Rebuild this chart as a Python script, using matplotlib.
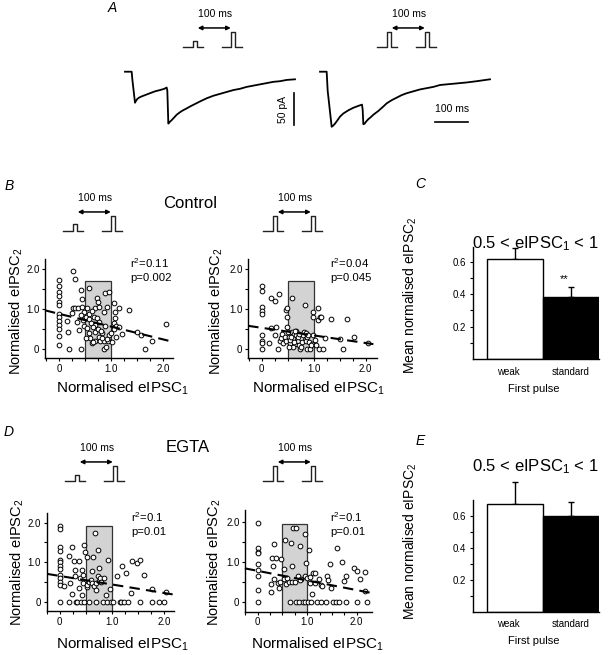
import numpy as np
import matplotlib
matplotlib.use("Agg")
import matplotlib.pyplot as plt
from matplotlib.patches import Rectangle

plt.rcParams['font.family'] = ['Liberation Sans', 'DejaVu Sans']
plt.rcParams['mathtext.fontset'] = 'custom'
plt.rcParams['mathtext.rm'] = 'Liberation Sans'
plt.rcParams['mathtext.it'] = 'Liberation Sans:italic'

# ---- data ----
# A: example currents (ms, pA)
trace_weak_t = [0, 20, 22, 30, 33, 37, 42, 50, 60, 75, 90, 105, 118, 125, 127, 130,
                133, 137, 141, 148, 155, 165, 174, 185, 195, 210, 225, 245, 265, 285, 305,
                325, 345, 365, 385, 405, 425, 445, 465, 485, 510]
trace_weak_i = [0, 0, -12, -49, -46, -43, -41, -39, -37, -34, -31, -29, -27, -25, -30, -82,
                -80, -78, -76, -72, -68, -64, -61, -58, -55, -51, -47, -42, -38, -35, -32,
                -29, -27, -24, -22, -20, -18, -16, -15, -13, -12]
trace_std_t = [0, 20, 23, 35, 40, 45, 52, 60, 70, 85, 100, 115, 126, 128, 130, 134, 138, 145,
               152, 160, 175, 190, 200, 215, 230, 245, 260, 280, 300, 320, 340, 360, 380, 400,
               420, 440, 470, 510]
trace_std_i = [0, 0, -30, -87, -85, -82, -77, -71, -66, -61, -57, -54, -52, -60, -83, -82, -79, -75,
               -72, -68, -62, -55, -50, -45, -41, -37, -34, -31, -28, -26, -24, -21, -20, -19,
               -18, -17, -15, -12]

# B: control, weak first pulse
ctl_weak_x = [0, 0, 0, 0, 0, 0, 0, 0, 0, 0, 0, 0, 0,
              0.26, 0.31, 0.15, 0.17, 0.19, 0.26, 0.31, 0.37, 0.25, 0.35, 0.39, 0.43, 0.43, 0.44, 0.44,
              0.47, 0.43, 0.46, 0.48, 0.51, 0.58, 0.54, 0.57, 0.57, 0.54, 0.57, 0.60, 0.52, 0.64, 0.69,
              0.73, 0.75, 0.70, 0.76, 0.67, 0.72, 0.76, 0.70, 0.69, 0.76, 0.79, 0.86, 0.83, 0.86, 0.86,
              0.89, 0.96, 0.92, 0.89, 0.96, 0.94, 0.90, 0.99, 1.02, 1.05, 1.07, 1.08, 1.05, 1.10, 1.05,
              1.10, 1.16, 1.15, 1.21, 1.34, 1.50, 1.58, 1.66, 1.78, 2.06,
              0.62, 0.66, 0.74, 0.80, 0.63, 0.82, 0.66, 0.92]
ctl_weak_y = [1.72, 1.58, 1.43, 1.32, 1.18, 1.10, 0.88, 0.80, 0.70, 0.60, 0.50, 0.32, 0.10,
              1.96, 1.74, 0.71, 0.43, 0.0, 1.02, 1.03, 1.03, 0.89, 0.68, 0.48, 0.0, 1.48, 1.25, 1.06,
              0.93, 0.85, 0.72, 0.58, 0.80, 1.52, 1.03, 0.87, 0.75, 0.52, 0.39, 0.27, 0.28, 0.14, 0.20,
              1.27, 1.18, 1.03, 1.06, 0.81, 0.77, 0.68, 0.60, 0.43, 0.31, 0.20, 0.93, 0.39, 0.20, 0.0,
              1.39, 1.42, 1.06, 0.58, 0.35, 0.20, 0.06, 0.39, 0.18, 1.14, 0.93, 0.77, 0.64, 0.58, 0.50,
              0.31, 1.03, 0.56, 0.37, 0.97, 0.42, 0.35, 0.0, 0.20, 0.62,
              0.65, 0.55, 0.50, 0.45, 0.95, 0.28, 0.17, 0.26]

# B: control, standard first pulse
ctl_std_x = [0, 0, 0, 0, 0, 0, 0, 0, 0,
             0.18, 0.26, 0.33, 0.14, 0.18, 0.28, 0.26, 0.31, 0.35, 0.38, 0.40, 0.42, 0.44, 0.47, 0.46,
             0.48, 0.48, 0.48, 0.50, 0.53, 0.54, 0.58, 0.58, 0.61, 0.63, 0.64, 0.67, 0.67, 0.69, 0.71,
             0.74, 0.76, 0.78, 0.80, 0.82, 0.83, 0.85, 0.87, 0.88, 0.91, 0.93, 0.96, 0.99, 0.99, 0.99,
             1.03, 1.04, 1.08, 1.09, 1.12, 1.15, 1.10, 1.19, 1.22, 1.33, 1.57, 1.51, 1.65, 1.78, 2.05,
             0.55, 0.60, 0.70, 0.75, 0.85, 0.90, 0.95, 0.65, 0.57, 0.62, 0.72, 0.52]
ctl_std_y = [1.58, 1.45, 1.06, 0.95, 0.87, 0.35, 0.20, 0.14, 0.0,
             1.27, 1.20, 1.38, 0.14, 0.53, 0.56, 0.35, 0.0, 0.20, 0.27, 0.37, 0.14, 0.31, 0.20, 0.98,
             1.03, 0.81, 0.56, 0.42, 0.31, 0.14, 1.27, 0.42, 0.27, 0.37, 0.12, 0.35, 0.45, 0.20, 0.10,
             0.0, 0.27, 0.17, 0.35, 0.43, 1.10, 0.20, 0.0, 0.31, 0.17, 0.0, 0.12, 0.93, 0.81, 0.35,
             0.22, 0.10, 1.02, 0.73, 0.81, 0.81, 0.0, 0.0, 0.27, 0.75, 0.0, 0.25, 0.75, 0.29, 0.14,
             0.22, 0.05, 0.30, 0.05, 0.40, 0.35, 0.10, 0.45, 0.30, 0.18, 0.38, 0.05]

# D: EGTA, weak first pulse
egta_weak_x = [0, 0, 0, 0, 0, 0, 0, 0, 0, 0, 0, 0, 0,
               0.08, 0.17, 0.17, 0.19, 0.23, 0.24, 0.27, 0.29, 0.29, 0.31, 0.34, 0.37, 0.37, 0.38, 0.40,
               0.42, 0.43, 0.45, 0.45, 0.47, 0.47, 0.48, 0.52, 0.52, 0.53, 0.56, 0.56, 0.59, 0.61, 0.64,
               0.62, 0.66, 0.67, 0.69, 0.69, 0.70, 0.74, 0.74, 0.75, 0.76, 0.78, 0.80, 0.83, 0.85, 0.89,
               0.91, 0.93, 0.97, 0.99, 1.02, 1.10, 1.15, 1.18, 1.20, 1.23, 1.27, 1.31, 1.36, 1.39, 1.48,
               1.53, 1.53, 1.61, 1.76, 1.76, 1.90, 1.99, 2.04]
egta_weak_y = [1.92, 1.84, 1.39, 1.27, 1.06, 1.00, 0.89, 0.82, 0.68, 0.60, 0.50, 0.41, 0.0,
               0.39, 1.16, 0.0, 0.47, 0.19, 1.37, 1.02, 0.81, 0.64, 0.0, 0.0, 1.02, 0.34, 0.60, 0.0,
               0.16, 0.81, 0.68, 0.47, 0.0, 1.44, 1.25, 1.14, 0.36, 0.41, 0.0, 0.50, 0.55, 0.78, 1.12,
               0.47, 0.39, 1.73, 0.30, 0.0, 0.47, 1.31, 0.64, 0.85, 0.53, 0.60, 0.50, 0.0, 0.60, 0.16,
               0.0, 1.06, 0.33, 0.0, 0.0, 0.66, 0.0, 0.0, 0.89, 0.0, 0.72, 0.0, 0.22, 1.03, 0.97,
               1.06, 0.0, 0.68, 0.0, 0.32, 0.0, 0.0, 0.24]

# D: EGTA, standard first pulse
egta_std_x = [0, 0, 0, 0, 0, 0, 0, 0, 0,
              0.26, 0.26, 0.28, 0.30, 0.32, 0.32, 0.37, 0.41, 0.44, 0.48, 0.53, 0.53, 0.56, 0.57, 0.63,
              0.66, 0.68, 0.69, 0.70, 0.72, 0.77, 0.76, 0.78, 0.84, 0.86, 0.81, 0.88, 0.91, 0.95, 0.96,
              0.96, 0.98, 1.02, 1.03, 1.06, 1.08, 1.11, 1.10, 1.16, 1.16, 1.20, 1.23, 1.27, 1.28, 1.30,
              1.38, 1.40, 1.43, 1.47, 1.49, 1.52, 1.58, 1.60, 1.65, 1.70, 1.74, 1.78, 1.78, 1.94, 2.01,
              2.01, 2.07, 2.16, 2.16, 2.21, 0.60, 0.85, 1.00, 1.05, 0.45]
egta_std_y = [1.96, 1.33, 1.25, 1.21, 0.93, 0.79, 0.65, 0.29, 0.0,
              0.43, 0.23, 1.10, 0.90, 1.43, 0.57, 1.08, 0.46, 0.33, 1.07, 0.82, 0.57, 1.54, 0.43, 0.48,
              0.0, 1.46, 0.88, 0.48, 1.83, 1.85, 0.48, 0.0, 0.0, 1.38, 0.63, 0.57, 0.0, 1.68, 0.63,
              0.0, 0.96, 0.0, 1.29, 0.46, 0.0, 0.71, 0.18, 0.71, 0.46, 0.0, 0.57, 0.42, 0.0, 0.38,
              0.0, 0.65, 0.54, 0.93, 0.33, 0.0, 0.0, 1.35, 0.0, 0.98, 0.52, 0.0, 0.65, 0.83, 0.77,
              0.0, 0.57, 0.27, 0.75, 0.0, 0.60, 0.55, 0.60, 0.62, 0.50]

# regression lines (intercept, slope) and stats text
fit_ctl_weak = (0.88, -0.32)
fit_ctl_std = (0.53, -0.19)
fit_egta_weak = (0.65, -0.215)
fit_egta_std = (0.77, -0.24)
stats_ctl_weak = ['r$^{2}$=0.11', 'p=0.002']
stats_ctl_std = ['r$^{2}$=0.04', 'p=0.045']
stats_egta_weak = ['r$^{2}$=0.1', 'p=0.01']
stats_egta_std = ['r$^{2}$=0.1', 'p=0.01']

# C / E: mean normalised eIPSC2 for 0.5 < eIPSC1 < 1
bar_labels = ['weak', 'standard']
ctl_means = [0.615, 0.385]
ctl_sem = [0.07, 0.057]
egta_means = [0.678, 0.602]
egta_sem = [0.138, 0.085]

W, H = 609, 655
fig = plt.figure(figsize=(W / 100, H / 100), dpi=100)


def add_ax(l, t, r, b):
    return fig.add_axes([l / W, 1 - b / H, (r - l) / W, (b - t) / H])


def ftext(x, y, s, **kw):
    kw.setdefault('ha', 'center')
    kw.setdefault('va', 'center')
    fig.text(x / W, 1 - y / H, s, **kw)


def protocol(t0, base, amp):
    # stimulus schematic, time in ms
    ax = add_ax(t0 - 11.1, base - 39, t0 - 11.1 + 61.9, base + 3)
    ax.set_xlim(-35, 160)
    ax.set_ylim(-0.2, 2.6)
    ax.axis('off')
    ax.plot([-32, 0, 0, 13, 13, 32], [0, 0, amp, amp, 0, 0], color='#222222', lw=1.0)
    ax.plot([90, 120, 120, 133, 133, 155], [0, 0, 1, 1, 0, 0], color='#222222', lw=1.0)
    ax.annotate('', xy=(119, 1.27), xytext=(15, 1.27),
                arrowprops=dict(arrowstyle='<|-|>', color='black', lw=1.1,
                                mutation_scale=6, shrinkA=0, shrinkB=0))
    ax.text(68, 2.2, '100 ms', ha='center', va='center', fontsize=7.5)


def trace(box, t, i):
    ax = add_ax(*box)
    ax.set_xlim(-15, 525)
    ax.set_ylim(-92.1, 18.5)
    ax.axis('off')
    ax.plot(t, i, color='black', lw=1.3)
    return ax


def scatter_panel(box, xlim, ylim, xs, ys, fit, fit_x, rect_top, stats, stats_xy):
    ax = add_ax(*box)
    ax.set_xlim(xlim)
    ax.set_ylim(ylim)
    ax.add_patch(Rectangle((0.5, ylim[0]), 0.5, rect_top - ylim[0], facecolor='#d3d3d3',
                           edgecolor='#333333', lw=0.9, zorder=1))
    ax.plot(xs, ys, 'o', mfc='white', mec='black', ms=3.4, mew=0.7, zorder=3, clip_on=False)
    fx = np.array(fit_x)
    ax.plot(fx, fit[0] + fit[1] * fx, color='black', lw=1.5, ls=(0, (5, 3)), zorder=4, clip_on=False)
    for s in ['top', 'right']:
        ax.spines[s].set_visible(False)
    for s in ['left', 'bottom']:
        ax.spines[s].set_linewidth(1.0)
    ax.set_xticks([0, 1, 2])
    ax.set_xticklabels(['0', '1.0', '2.0'])
    ax.set_xticks([-0.25, 0.25, 0.5, 0.75, 1.25, 1.5, 1.75], minor=True)
    ax.set_yticks([0, 1, 2])
    ax.set_yticklabels(['0', '1.0', '2.0'])
    ax.set_yticks([0.5, 1.5], minor=True)
    ax.tick_params(which='both', labelsize=7, length=2.5, width=0.8, direction='out', pad=1.5)
    # r^2 and p values, stacked
    ftext(stats_xy[0], stats_xy[1], stats[0], ha='left', va='baseline', fontsize=8.2)
    ftext(stats_xy[0], stats_xy[1] + 13, stats[1], ha='left', va='baseline', fontsize=8.2)
    return ax


def bar_panel(box, ylim, means, sem):
    ax = add_ax(*box)
    ax.set_xlim(-0.76, 1.5)
    ax.set_ylim(ylim)
    ax.bar([0, 1], means, width=1, color=['white', 'black'], edgecolor='black', lw=1.0, zorder=2)
    eb = ax.errorbar([0, 1], means, yerr=[[0, 0], sem], fmt='none', ecolor='black',
                     elinewidth=1.0, capsize=2.3, capthick=1.0, zorder=1)
    for a in list(eb.lines[1]) + list(eb.lines[2]):
        a.set_clip_on(False)
    for s in ['top', 'right']:
        ax.spines[s].set_visible(False)
    for s in ['left', 'bottom']:
        ax.spines[s].set_linewidth(1.0)
    ax.set_xticks([])
    ax.set_yticks([0.2, 0.4, 0.6])
    ax.set_yticklabels(['0.2', '0.4', '0.6'])
    ax.set_yticks([0.1, 0.3, 0.5], minor=True)
    ax.tick_params(which='both', labelsize=7, length=2.5, width=0.8, direction='out', pad=2)
    return ax


ylab = 'Normalised eIPSC$_{\\mathregular{2}}$'
xlab = 'Normalised eIPSC$_{\\mathregular{1}}$'
mlab = 'Mean normalised eIPSC$_{\\mathregular{2}}$'
title_bar = '0.5 < eIPSC$_{\\mathregular{1}}$ < 1'

# ---- A ----
ftext(112, 8, 'A', fontsize=10, style='italic')
protocol(193, 47, 0.43)
protocol(387, 47, 1.0)
ax_l = trace([120, 60, 300, 130], trace_weak_t, trace_weak_i)
ax_l.plot([508, 508], [-34.4, -84.4], color='black', lw=1.2)
ax_l.text(474, -59, '50 pA', rotation=90, ha='center', va='center', fontsize=7.5)
ax_r = trace([315, 60, 495, 130], trace_std_t, trace_std_i)
ax_r.plot([345, 445], [-79, -79], color='black', lw=1.2)
ax_r.text(396, -59, '100 ms', ha='center', va='center', fontsize=7.5)

# ---- B ----
ftext(9, 186, 'B', fontsize=10, style='italic')
ftext(190, 203, 'Control', fontsize=12)
protocol(73, 231, 0.45)
protocol(273, 231, 1.0)
scatter_panel([45, 259, 173, 358], (-0.27, 2.19), (-0.225, 2.25), ctl_weak_x, ctl_weak_y,
              fit_ctl_weak, [-0.27, 2.2], 1.7, stats_ctl_weak, (130, 268))
scatter_panel([248, 259, 377, 358], (-0.263, 2.22), (-0.225, 2.25), ctl_std_x, ctl_std_y,
              fit_ctl_std, [-0.26, 2.15], 1.7, stats_ctl_std, (330, 268))
ftext(16, 311, ylab, rotation=90, fontsize=10.5)
ftext(216, 311, ylab, rotation=90, fontsize=10.5)
ftext(122, 388, xlab, fontsize=11)
ftext(318, 388, xlab, fontsize=11)

# ---- C ----
ftext(420, 184, 'C', fontsize=10, style='italic')
bar_panel([472.7, 247.1, 599.3, 359.2], (0, 0.69), ctl_means, ctl_sem)
ftext(564, 279, '**', fontsize=8)
ftext(535, 244, title_bar, fontsize=12)
ftext(410, 295, mlab, rotation=90, fontsize=10)
ftext(508, 372, bar_labels[0], fontsize=7)
ftext(571, 372, bar_labels[1], fontsize=7)
ftext(534, 389, 'First pulse', fontsize=8)

# ---- D ----
ftext(9, 432, 'D', fontsize=10, style='italic')
ftext(188, 447, 'EGTA', fontsize=12)
protocol(75, 481, 0.4)
protocol(273, 481, 1.0)
scatter_panel([46.7, 513, 174, 611], (-0.24, 2.19), (-0.235, 2.24), egta_weak_x, egta_weak_y,
              fit_egta_weak, [-0.24, 2.28], 1.92, stats_egta_weak, (131, 522))
scatter_panel([245, 510, 372, 611.7], (-0.257, 2.31), (-0.25, 2.29), egta_std_x, egta_std_y,
              fit_egta_std, [-0.26, 2.34], 1.93, stats_egta_std, (330, 522))
ftext(17, 562, ylab, rotation=90, fontsize=10.5)
ftext(214, 562, ylab, rotation=90, fontsize=10.5)
ftext(122, 644, xlab, fontsize=11)
ftext(317, 644, xlab, fontsize=11)

# ---- E ----
ftext(420, 441, 'E', fontsize=10, style='italic')
bar_panel([472.7, 500, 599.3, 611.5], (0, 0.70), egta_means, egta_sem)
ftext(535, 467, title_bar, fontsize=12)
ftext(410, 541, mlab, rotation=90, fontsize=10)
ftext(508, 624, bar_labels[0], fontsize=7)
ftext(571, 624, bar_labels[1], fontsize=7)
ftext(534, 641, 'First pulse', fontsize=8)

fig.savefig('out.png', dpi=100, facecolor='white')
